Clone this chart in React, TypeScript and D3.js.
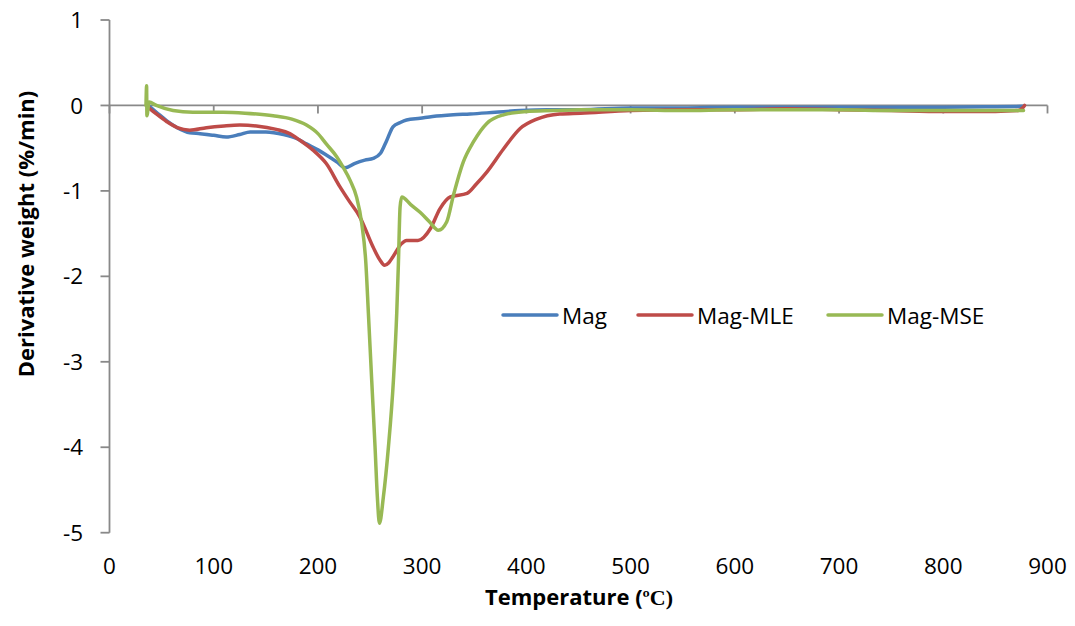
import React from "react";
import * as d3 from "d3";

const xTicks = [0, 100, 200, 300, 400, 500, 600, 700, 800, 900];
const yTicks = [1, 0, -1, -2, -3, -4, -5];

const magT = [37, 45, 55, 65, 77, 87, 100, 112, 125, 135, 150, 167, 180, 189, 200, 208, 218, 226, 235, 245, 253, 260, 266, 272, 279, 285, 298, 310, 330, 346, 370, 394, 420, 452, 500, 550, 600, 650, 700, 750, 800, 850, 877];
const magV = [0.0, -0.08, -0.18, -0.26, -0.32, -0.33, -0.35, -0.37, -0.34, -0.31, -0.31, -0.34, -0.39, -0.45, -0.52, -0.58, -0.66, -0.73, -0.68, -0.64, -0.62, -0.56, -0.41, -0.25, -0.2, -0.17, -0.15, -0.13, -0.11, -0.1, -0.08, -0.06, -0.05, -0.05, -0.03, -0.03, -0.02, -0.02, -0.02, -0.02, -0.02, -0.015, -0.01];

const mleT = [38, 45, 55, 65, 77, 93, 110, 125, 141, 160, 173, 183, 195, 208, 221, 230, 240, 253, 259, 264, 268, 272, 280, 285, 296, 308, 317, 327, 343, 352, 362, 378, 394, 410, 432, 452, 500, 550, 600, 650, 700, 750, 800, 850, 872, 876, 878];
const mleV = [-0.03, -0.1, -0.19, -0.26, -0.29, -0.26, -0.24, -0.23, -0.24, -0.28, -0.33, -0.41, -0.52, -0.68, -0.95, -1.12, -1.3, -1.66, -1.8, -1.87, -1.84, -1.77, -1.62, -1.58, -1.58, -1.44, -1.21, -1.07, -1.03, -0.92, -0.78, -0.51, -0.27, -0.16, -0.1, -0.09, -0.06, -0.05, -0.05, -0.04, -0.05, -0.06, -0.07, -0.07, -0.06, -0.03, 0.0];

const mseT = [35, 35.6, 35.9, 38, 45, 61, 80, 109, 130, 157, 175, 189, 200, 208, 218, 224, 231, 237, 242, 246, 248.4, 251.6, 254.8, 257, 259, 262.8, 267.6, 272.4, 275.6, 277.2, 278.8, 280.4, 289, 298, 307, 315.5, 323.6, 330, 339.5, 349, 362, 378, 400, 426, 452, 500, 550, 600, 650, 700, 750, 800, 850, 877];
const mseV = [0.0, 0.23, -0.12, 0.04, 0.0, -0.06, -0.08, -0.08, -0.09, -0.12, -0.16, -0.23, -0.33, -0.45, -0.6, -0.72, -0.88, -1.07, -1.38, -1.85, -2.43, -3.22, -4.0, -4.58, -4.89, -4.58, -4.0, -3.22, -2.43, -1.85, -1.19, -1.07, -1.16, -1.25, -1.36, -1.46, -1.36, -1.05, -0.66, -0.43, -0.21, -0.11, -0.07, -0.06, -0.05, -0.05, -0.06, -0.05, -0.05, -0.05, -0.06, -0.06, -0.06, -0.06];

const seriesNames = ["Mag", "Mag-MLE", "Mag-MSE"];
const seriesColors = ["#4a7ebb", "#be4b48", "#98b954"];

export default function App() {
  const W = 1075;
  const H = 626;
  const x = d3.scaleLinear().domain([0, 900]).range([109.5, 1047.5]);
  const y = d3.scaleLinear().domain([-5, 1]).range([532.7, 20]);
  const line = d3
    .line<[number, number]>()
    .x((d) => x(d[0]))
    .y((d) => y(d[1]))
    .curve(d3.curveMonotoneX);

  const series = [
    magT.map((t, i) => [t, magV[i]] as [number, number]),
    mleT.map((t, i) => [t, mleV[i]] as [number, number]),
    mseT.map((t, i) => [t, mseV[i]] as [number, number]),
  ];

  const axisColor = "#898989";
  const font = "'Open Sans', Lato, sans-serif";
  const legendX = [503, 638, 828];

  return (
    <svg
      width={W}
      height={H}
      style={{ position: "absolute", left: 0, top: 0, background: "#fff" }}
      fontFamily={font}
    >
      {/* y axis */}
      <line x1={x(0)} x2={x(0)} y1={y(1)} y2={y(-5)} stroke={axisColor} strokeWidth={1.8} />
      {yTicks.map((t) => (
        <g key={"y" + t}>
          <line x1={x(0) - 9} x2={x(0)} y1={y(t)} y2={y(t)} stroke={axisColor} strokeWidth={1.8} />
          <text x={83} y={y(t)} dy="0.36em" textAnchor="end" fontSize={22.5} fill="#000">
            {t}
          </text>
        </g>
      ))}
      {/* x axis at y = 0 */}
      <line x1={x(0)} x2={x(900)} y1={y(0)} y2={y(0)} stroke={axisColor} strokeWidth={1.8} />
      {xTicks.map((t) => (
        <g key={"x" + t}>
          <line x1={x(t)} x2={x(t)} y1={y(0)} y2={y(0) + 8} stroke={axisColor} strokeWidth={1.8} />
          <text x={x(t)} y={574} textAnchor="middle" fontSize={22.5} fill="#000">
            {t}
          </text>
        </g>
      ))}

      {/* data lines */}
      {series.map((s, i) => (
        <path
          key={seriesNames[i]}
          d={line(s) || ""}
          fill="none"
          stroke={seriesColors[i]}
          strokeWidth={3.5}
          strokeLinejoin="round"
          strokeLinecap="round"
        />
      ))}

      {/* legend */}
      {seriesNames.map((n, i) => (
        <g key={"leg" + n}>
          <line
            x1={legendX[i]}
            x2={legendX[i] + 54}
            y1={315}
            y2={315}
            stroke={seriesColors[i]}
            strokeWidth={3.5}
            strokeLinecap="round"
          />
          <text x={legendX[i] + 59} y={323.5} fontSize={22.5} fill="#000">
            {n}
          </text>
        </g>
      ))}

      {/* axis titles */}
      <text x={579} y={605} textAnchor="middle" fontSize={22} fontWeight="bold" fill="#000">
        Temperature (
        <tspan fontFamily="'Liberation Serif', 'DejaVu Serif', serif" fontWeight="bold">
          ºC)
        </tspan>
      </text>
      <text
        transform={`translate(34, 234) rotate(-90)`}
        textAnchor="middle"
        fontSize={22}
        fontWeight="bold"
        fill="#000"
      >
        Derivative weight (%/min)
      </text>
    </svg>
  );
}
